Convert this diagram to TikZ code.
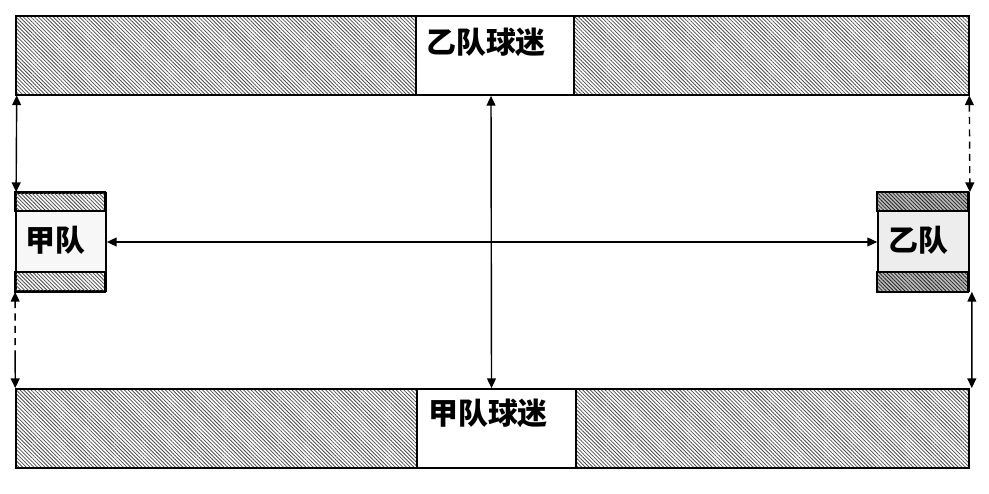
\documentclass[tikz,border=0pt]{standalone}
\usepackage{fontspec}
\newfontfamily\cjk{Noto Sans CJK SC}
\usetikzlibrary{arrows.meta,patterns.meta}

\tikzset{
  hatch/.style={pattern={Lines[angle=-45,distance=1.5pt,line width=0.45pt]},pattern color=black!70},
  darkhatch/.style={hatch,preaction={fill=gray!55},pattern color=black!85},
  stand/.style={draw,line width=1pt,hatch,inner sep=0pt,minimum width=19.06cm,minimum height=1.58cm},
  fans/.style={draw,line width=1pt,fill=white,inner sep=0pt,minimum height=1.58cm},
  team/.style={draw,line width=1pt,inner sep=0pt,minimum height=1.96cm},
  lbl/.style={font=\cjk\bfseries\fontsize{17}{20}\selectfont,inner sep=0pt},
  link/.style={line width=0.8pt,{Triangle[length=5.5pt,width=5pt]}-{Triangle[length=5.5pt,width=5pt]}}
}

\begin{document}
\begin{tikzpicture}[x=0.02cm,y=-0.02cm]
\useasboundingbox (0,0) rectangle (989,493);
% stands
\node [stand] (topstand) at (492.5,55.5) {};
\node [stand] (botstand) at (492.5,428.5) {};
\node [fans,minimum width=3.16cm] (fansB) at (495,55.5) {};
\node [fans,minimum width=3.18cm] (fansA) at (496.5,428.5) {};
\node [lbl] (fansBtext) at (486,42) {乙队球迷};
\node [lbl] (fansAtext) at (488,413) {甲队球迷};
% teams
\node [team,fill=black!3,minimum width=1.8cm] (teamA) at (61,242) {};
\node [team,fill=black!7,minimum width=1.82cm] (teamB) at (923.5,242) {};
\draw [line width=1pt,hatch] (teamA.north west) rectangle ++(90,19);
\draw [line width=1pt,hatch] (teamA.south west) rectangle ++(90,-20);
\draw [line width=1pt,darkhatch] (teamB.north west) rectangle ++(91,19);
\draw [line width=1pt,darkhatch] (teamB.south west) rectangle ++(91,-20);
\node [lbl] (teamAtext) at (55,240) {甲队};
\node [lbl] (teamBtext) at (918,240) {乙队};
% links
\draw [link] (teamA.east) -- (teamB.west);
\draw [link] ([xshift=-0.08cm]fansB.south) -- ([xshift=-0.1cm]fansA.north);
\draw [link] ([xshift=0.02cm]topstand.south west) -- ([xshift=0.02cm]teamA.north west);
\draw [link,dash pattern=on 4pt off 3pt on 4pt off 3pt on 4pt off 3pt on 4pt off 3pt on 40pt off 1pt]
  (teamA.south west) -- (botstand.north west);
\draw [link,dash pattern=on 4pt off 3pt on 4pt off 3pt on 4pt off 3pt on 4pt off 3pt on 4pt off 3pt on 4pt off 3pt on 40pt off 1pt]
  (topstand.south east) -- (teamB.north east);
\draw [link] ([xshift=0.04cm]teamB.south east) -- ([xshift=0.04cm]botstand.north east);
\end{tikzpicture}
\end{document}
